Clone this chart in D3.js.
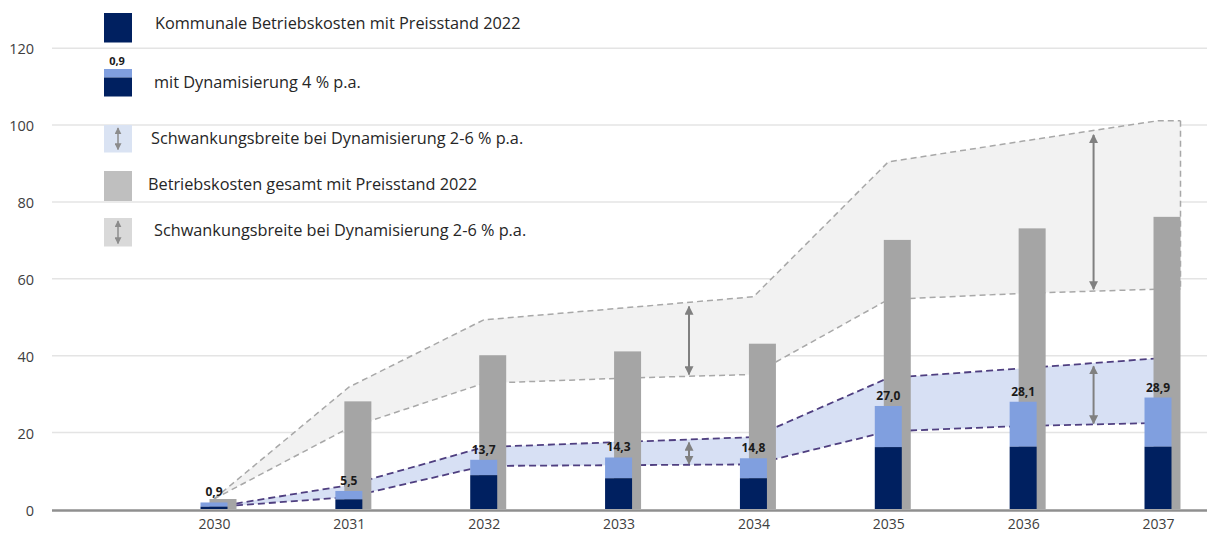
<!DOCTYPE html>
<html>
<head>
<meta charset="utf-8">
<script src="https://cdn.jsdelivr.net/npm/d3@7"></script>
<style>
  body { margin: 0; background: #fff; }
  svg { display: block; font-family: "Open Sans", sans-serif; }
</style>
</head>
<body>
<div id="chart"></div>
<script>
// Data
const years = ["2030", "2031", "2032", "2033", "2034", "2035", "2036", "2037"];
const baseCost = [0.6, 2.5, 8.8, 8.0, 8.0, 16.1, 16.2, 16.2];        // Kommunale Betriebskosten, Preisstand 2022
const dynCost = [1.7, 4.7, 12.8, 13.4, 13.2, 26.8, 27.9, 29.0];      // mit Dynamisierung 4 % p.a.
const dynLabels = ["0,9", "5,5", "13,7", "14,3", "14,8", "27,0", "28,1", "28,9"];
const totalCost = [2.6, 28.0, 40.0, 41.0, 43.0, 70.0, 73.0, 76.0];   // Betriebskosten gesamt
const dynLow = [0.5, 3.1, 11.2, 11.4, 11.6, 20.2, 21.6, 22.4];       // Schwankungsbreite 2 %
const dynHigh = [0.5, 6.2, 16.1, 17.4, 18.7, 34.1, 36.6, 39.2];      // Schwankungsbreite 6 %
const totalLow = [2.6, 21.1, 32.7, 34.0, 35.0, 54.5, 56.1, 57.2];
const totalHigh = [2.6, 31.7, 49.2, 52.2, 55.2, 90.3, 95.7, 101.0];
const yTicks = [0, 20, 40, 60, 80, 100, 120];
const arrowPairs = [[3, 4], [6, 7]];
const legendLabels = [
  "Kommunale Betriebskosten mit Preisstand 2022",
  "mit Dynamisierung 4 % p.a.",
  "Schwankungsbreite bei Dynamisierung 2-6 % p.a.",
  "Betriebskosten gesamt mit Preisstand 2022",
  "Schwankungsbreite bei Dynamisierung 2-6 % p.a."
];

// Layout
const W = 1207, H = 534;
const plotLeft = 52;
const barW = 27, grayShift = 9;
const colors = {
  navy: "#002060", light: "#809fdf", gray: "#a5a5a5",
  grayBand: "#f2f2f2", blueBand: "#d7e0f4",
  grayLine: "#a8a8a8", purple: "#4f3f80", arrow: "#808080"
};
const legendRowY = [13, 69, 125, 171, 218];
const legendTextX = [155, 154, 151, 148, 154];
const legendTextY = [23, 82, 138, 184, 230];

const svg = d3.select("#chart").append("svg")
  .attr("width", W)
  .attr("height", H);

const defs = svg.append("defs");
function addMarker(id, size, color) {
  defs.append("marker")
    .attr("id", id)
    .attr("viewBox", "0 0 10 10")
    .attr("refX", 9).attr("refY", 5)
    .attr("markerUnits", "userSpaceOnUse")
    .attr("markerWidth", size).attr("markerHeight", size)
    .attr("orient", "auto-start-reverse")
    .append("path")
    .attr("d", "M0,0 L10,5 L0,10 z")
    .attr("fill", color);
}
addMarker("arr", 9, colors.arrow);
addMarker("arrSmall", 7, "#8c8c8c");

// Scales
const x = d3.scalePoint().domain(years).range([214, 1158]);
const y = d3.scaleLinear().domain([0, 120]).range([509, 47.7]);

// Gridlines + y tick labels
const yAxis = d3.axisLeft(y)
  .tickValues(yTicks)
  .tickSize(-(W - plotLeft))
  .tickPadding(18);

const yG = svg.append("g")
  .attr("transform", `translate(${plotLeft},0)`)
  .call(yAxis);
yG.select(".domain").remove();
yG.selectAll(".tick line")
  .attr("stroke", "#e4e4e4")
  .attr("stroke-width", 1.5)
  .attr("opacity", d => d === 0 ? 0 : 1);
yG.selectAll(".tick text")
  .attr("font-size", 14.5)
  .attr("fill", "#404040")
  .attr("dy", "0.42em")
  .style("font-family", "'Open Sans', sans-serif");

// Bands
const idx = d3.range(years.length);
function bandPoints(low, high, extendRight) {
  const pts = idx.map(i => ({ x: x(years[i]), lo: low[i], hi: high[i] }));
  if (extendRight) {
    const last = pts[pts.length - 1];
    pts.push({ x: last.x - barW / 2 + grayShift + barW, lo: last.lo, hi: last.hi });
  }
  return pts;
}
const grayPts = bandPoints(totalLow, totalHigh, true);
const bluePts = bandPoints(dynLow, dynHigh, false);

const area = d3.area().x(d => d.x).y0(d => y(d.lo)).y1(d => y(d.hi));
const lineLo = d3.line().x(d => d.x).y(d => y(d.lo));
const lineHi = d3.line().x(d => d.x).y(d => y(d.hi));

svg.append("path").datum(grayPts).attr("d", area).attr("fill", colors.grayBand);
svg.append("path").datum(bluePts).attr("d", area).attr("fill", colors.blueBand);

[lineLo, lineHi].forEach(gen => {
  svg.append("path").datum(grayPts).attr("d", gen)
    .attr("fill", "none").attr("stroke", colors.grayLine)
    .attr("stroke-width", 1.5).attr("stroke-dasharray", "6,4");
});
const lastGray = grayPts[grayPts.length - 1];
svg.append("line")
  .attr("x1", lastGray.x).attr("x2", lastGray.x)
  .attr("y1", y(lastGray.hi)).attr("y2", y(lastGray.lo))
  .attr("stroke", colors.grayLine).attr("stroke-width", 1.5)
  .attr("stroke-dasharray", "6,4");

[lineLo, lineHi].forEach(gen => {
  svg.append("path").datum(bluePts).attr("d", gen)
    .attr("fill", "none").attr("stroke", colors.purple)
    .attr("stroke-width", 1.8).attr("stroke-dasharray", "7,4");
});

// Bars
const bars = svg.append("g");
bars.selectAll(".total").data(idx).join("rect")
  .attr("x", i => x(years[i]) - barW / 2 + grayShift)
  .attr("y", i => y(totalCost[i]))
  .attr("width", barW)
  .attr("height", i => y(0) - y(totalCost[i]))
  .attr("fill", colors.gray);

bars.selectAll(".dyn").data(idx).join("rect")
  .attr("x", i => x(years[i]) - barW / 2)
  .attr("y", i => y(dynCost[i]))
  .attr("width", barW)
  .attr("height", i => y(baseCost[i]) - y(dynCost[i]))
  .attr("fill", colors.light);

bars.selectAll(".base").data(idx).join("rect")
  .attr("x", i => x(years[i]) - barW / 2)
  .attr("y", i => y(baseCost[i]))
  .attr("width", barW)
  .attr("height", i => y(0) - y(baseCost[i]))
  .attr("fill", colors.navy);

// Value labels
svg.append("g").selectAll("text").data(idx).join("text")
  .attr("x", i => x(years[i]))
  .attr("y", i => y(dynCost[i]) - 6)
  .attr("text-anchor", "middle")
  .attr("font-size", 12)
  .attr("font-weight", "bold")
  .attr("fill", "#1a1a1a")
  .text(i => dynLabels[i]);

// x axis
const xAxis = d3.axisBottom(x).tickSize(0).tickPadding(10);
const xG = svg.append("g")
  .attr("transform", `translate(0,${y(0)})`)
  .call(xAxis);
xG.select(".domain").remove();
xG.selectAll(".tick text")
  .attr("font-size", 14)
  .attr("fill", "#404040")
  .style("font-family", "'Open Sans', sans-serif");

svg.append("line")
  .attr("x1", plotLeft).attr("x2", W)
  .attr("y1", y(0) + 1.5).attr("y2", y(0) + 1.5)
  .attr("stroke", "#8f8f8f")
  .attr("stroke-width", 2.5);

// Range arrows
function drawArrow(sel, xm, y1, y2, marker, width, color) {
  sel.append("line")
    .attr("x1", xm).attr("x2", xm)
    .attr("y1", y1).attr("y2", y2)
    .attr("stroke", color).attr("stroke-width", width)
    .attr("marker-start", `url(#${marker})`)
    .attr("marker-end", `url(#${marker})`);
}
const arrows = svg.append("g");
arrowPairs.forEach(([a, b]) => {
  const xm = (x(years[a]) + x(years[b])) / 2 + 3;
  drawArrow(arrows, xm, y((totalHigh[a] + totalHigh[b]) / 2) + 4, y((totalLow[a] + totalLow[b]) / 2) - 2, "arr", 2, colors.arrow);
  drawArrow(arrows, xm, y((dynHigh[a] + dynHigh[b]) / 2) + 3, y((dynLow[a] + dynLow[b]) / 2) - 1, "arr", 2, colors.arrow);
});

// Legend
const legend = svg.append("g");
const sq = 28, lx = 104;
const sqH = [29.5, 27.5, 27.5, 30, 28.5];
const sqFill = [colors.navy, null, "#dae3f3", "#bfbfbf", "#d9d9d9"];
legendLabels.forEach((label, i) => {
  const top = legendRowY[i];
  if (i === 1) {
    legend.append("rect").attr("x", lx).attr("y", top).attr("width", sq).attr("height", 8.5).attr("fill", colors.light);
    legend.append("rect").attr("x", lx).attr("y", top + 8.5).attr("width", sq).attr("height", sqH[i] - 8.5).attr("fill", colors.navy);
    legend.append("text")
      .attr("x", lx + sq / 2 - 1).attr("y", top - 4)
      .attr("text-anchor", "middle").attr("font-size", 11).attr("font-weight", "bold")
      .attr("fill", "#1a1a1a").text(dynLabels[0]);
  } else {
    legend.append("rect").attr("x", lx).attr("y", top).attr("width", sq).attr("height", sqH[i]).attr("fill", sqFill[i]);
  }
  if (i === 2 || i === 4) {
    drawArrow(legend, lx + sq / 2, top + 3, top + sqH[i] - 3, "arrSmall", 1.5, "#8c8c8c");
  }
  legend.append("text")
    .attr("x", legendTextX[i])
    .attr("y", legendTextY[i])
    .attr("dy", "0.35em")
    .attr("font-size", 16.3)
    .attr("fill", "#262626")
    .text(label);
});
</script>
</body>
</html>
